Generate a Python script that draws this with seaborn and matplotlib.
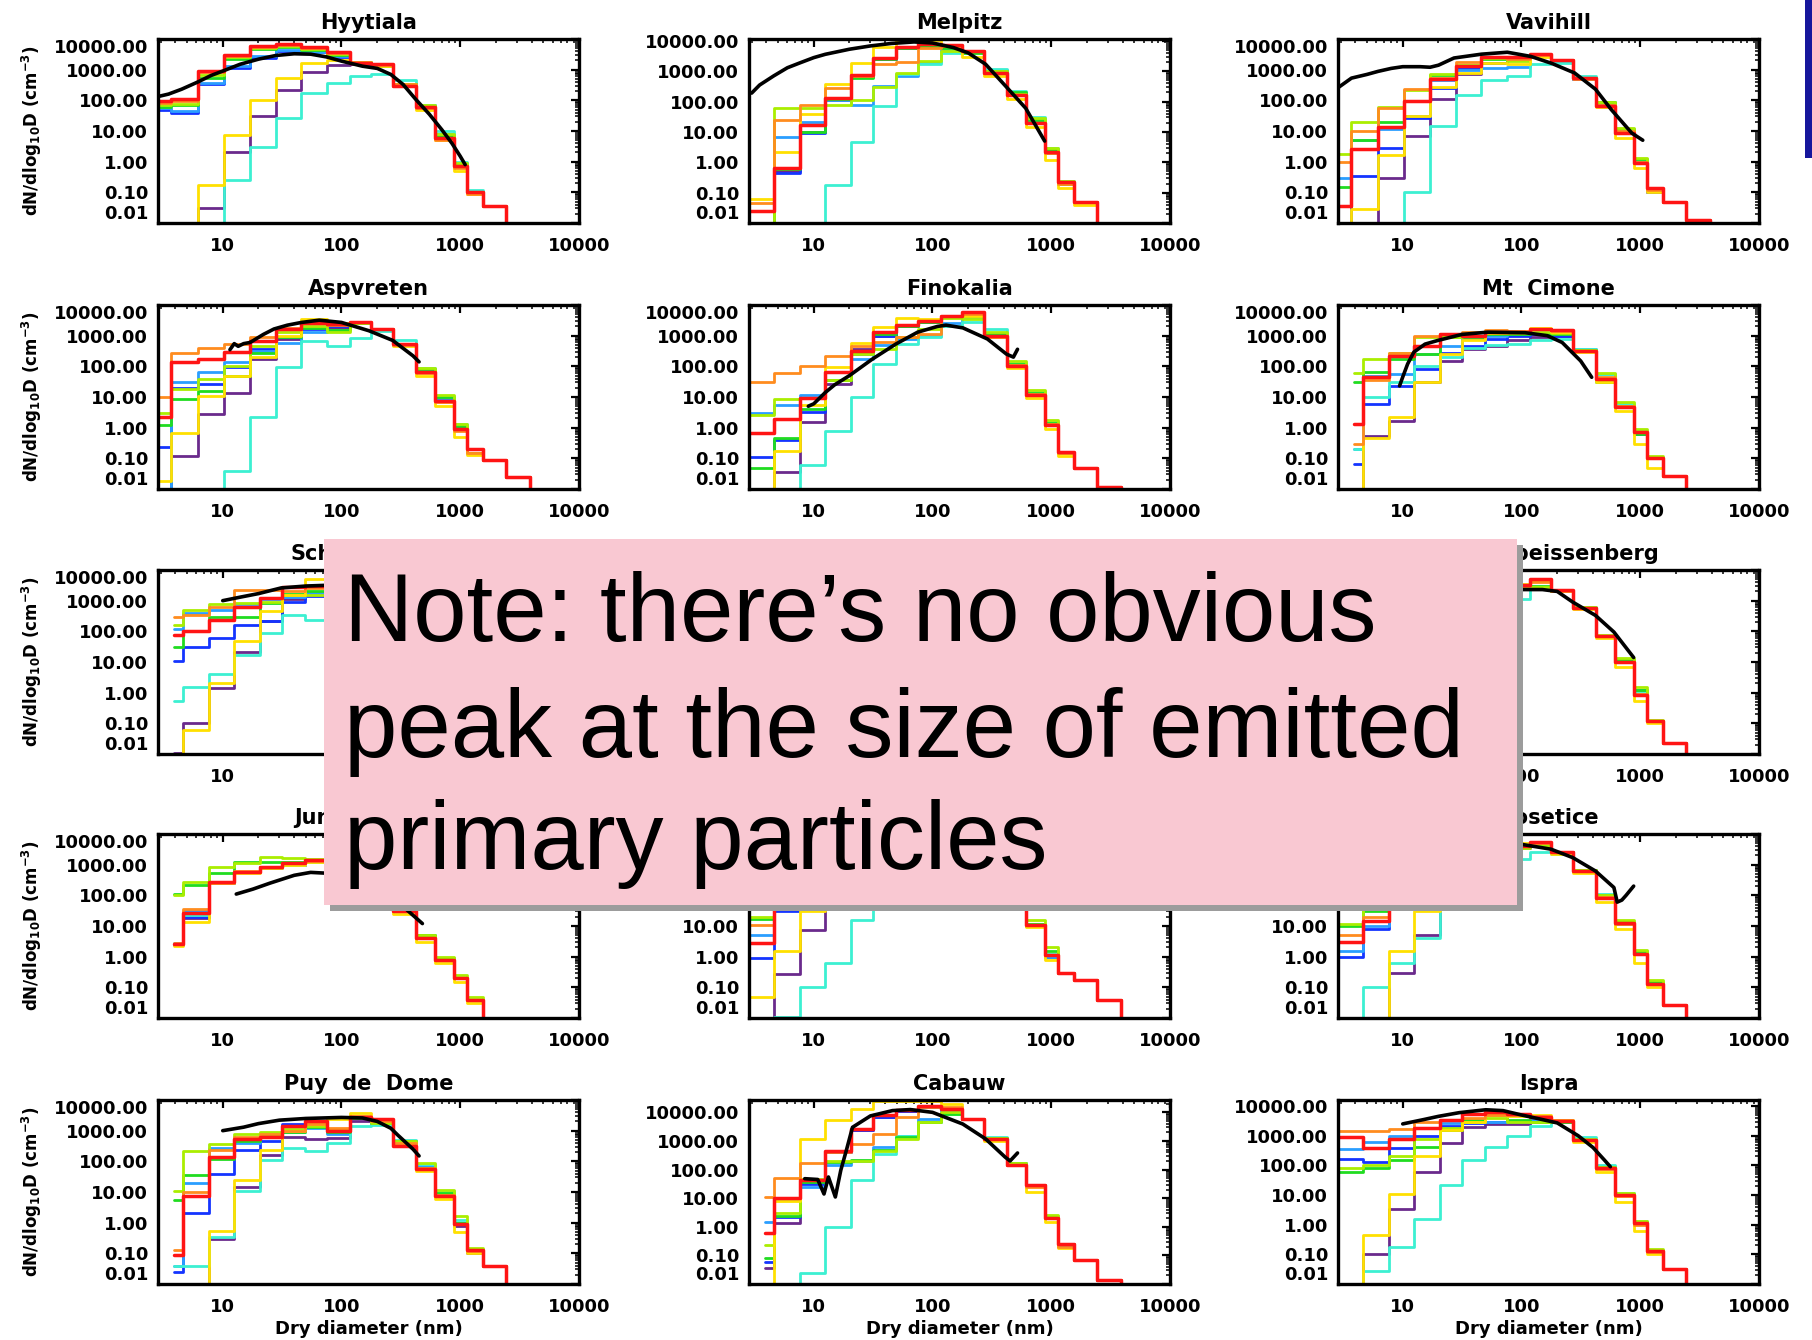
import matplotlib
matplotlib.use("Agg")
import matplotlib.pyplot as plt
from matplotlib.patches import Rectangle
from matplotlib.ticker import LogLocator, NullFormatter
import numpy as np
import pandas as pd
import seaborn as sns

sns.set_theme(style="white", rc={"text.color": "black", "axes.labelcolor": "black",
                                 "xtick.color": "black", "ytick.color": "black"})
plt.rcParams["font.family"] = ["DejaVu Sans"]
plt.rcParams["font.weight"] = "bold"
plt.rcParams["mathtext.default"] = "bf"

Z = 1e-4   # below the plotted range: the step falls to the axis
N = None   # size bin not shown

# size-bin edges (nm) of the measured distributions
EDGES_A = [2.3, 3.7, 6.2, 10.2, 17.0, 28.0, 46.0, 75.0, 118.0, 177.0, 270.0, 420.0,
           610.0, 880.0, 1130.0, 1560.0, 2450.0, 3900.0]
EDGES_B = [2.5, 4.6, 7.7, 12.5, 20.4, 31.6, 49.0, 75.0, 118.0, 177.0, 270.0, 420.0,
           610.0, 880.0, 1130.0, 1560.0, 2450.0, 3900.0]
EDGES_C = [3.9, 4.6, 7.7, 12.5, 20.4, 31.6, 49.0, 75.0, 118.0, 177.0, 270.0, 420.0,
           610.0, 880.0, 1130.0, 1560.0, 2450.0, 3900.0]

SERIES = ["purple", "blue", "lightblue", "cyan", "green", "yellowgreen", "yellow", "orange", "red"]
COLORS = {"purple": "#6A2A8C", "blue": "#1434FF", "lightblue": "#2A9EFF", "cyan": "#3CF0D2",
          "green": "#20DC20", "yellowgreen": "#AAEE00", "yellow": "#FFE000",
          "orange": "#FF8C1E", "red": "#FF1414"}

# ---- dN/dlog10D per size bin (cm-3) ----
HYYTIALA = dict(
    purple=[N, Z, 0.03, 2, 30, 220, 850, 1450, 1500, 1300, 300, 55, 6, 0.7, 0.1, 0.035, Z],
    blue=[50, 40, 330, 1100, 2400, 4000, 3700, 2600, 1600, 1300, 330, 65, 7, 0.8, 0.1, 0.035, Z],
    lightblue=[55, 45, 380, 1300, 2700, 4300, 3800, 2800, 1700, 1300, 350, 70, 8, 0.8, 0.1, 0.035, Z],
    cyan=[N, N, Z, 0.25, 3, 27, 170, 370, 600, 700, 450, 70, 10, 1.0, 0.12, 0.035, Z],
    green=[60, 70, 550, 2300, 4800, 5500, 4500, 3000, 1800, 1300, 340, 65, 7, 0.8, 0.1, 0.035, Z],
    yellowgreen=[70, 75, 650, 2600, 5000, 6000, 4800, 3300, 1800, 1400, 350, 70, 8, 0.9, 0.1, 0.035, Z],
    yellow=[N, Z, 0.17, 7.5, 100, 550, 1600, 2000, 1700, 1300, 300, 50, 5, 0.5, 0.09, 0.035, Z],
    orange=[80, 95, 850, 2800, 5500, 6500, 5000, 3500, 1800, 1400, 330, 55, 5, 0.6, 0.09, 0.035, Z],
    red=[95, 110, 900, 3000, 6000, 7000, 5500, 3800, 1700, 1500, 300, 60, 6, 0.7, 0.1, 0.035, Z],
)
HYYTIALA_MODEL_D = [2.9, 3.5, 4.5, 6.2, 8, 10, 14, 20, 28, 40, 55, 75, 100, 150, 200, 260, 330,
                    420, 550, 700, 850, 1000, 1100]
HYYTIALA_MODEL_N = [135, 160, 230, 400, 650, 900, 1500, 2200, 2900, 3300, 3200, 2600, 1900, 1300,
                    1100, 700, 330, 110, 35, 11, 4, 1.5, 0.8]

MELPITZ = dict(
    purple=[Z, 0.5, 10, 110, 650, 2500, 5800, 7000, 6500, 4300, 900, 180, 20, 2, 0.2, 0.05, Z],
    blue=[Z, 0.45, 9, 120, 700, 2600, 6000, 7000, 6500, 4200, 900, 180, 22, 2.2, 0.2, 0.05, Z],
    lightblue=[Z, 7, 22, 110, 80, 330, 700, 2000, 5000, 4500, 1100, 200, 25, 2.5, 0.2, 0.05, Z],
    cyan=[N, N, Z, 0.18, 4.6, 70, 800, 1700, 4000, 4500, 1200, 220, 30, 3, 0.25, 0.05, Z],
    green=[Z, 0.6, 10, 120, 600, 2500, 6000, 7000, 6000, 4000, 1000, 200, 25, 2.5, 0.2, 0.05, Z],
    yellowgreen=[Z, 60, 60, 75, 110, 300, 900, 2100, 4500, 4500, 1000, 180, 28, 3, 0.25, 0.05, Z],
    yellow=[0.06, 2.2, 40, 380, 1900, 6300, 11000, 11000, 7000, 3000, 700, 120, 15, 1.2, 0.14, 0.04, Z],
    orange=[0.045, 25, 80, 270, 700, 1700, 2000, 6000, 7000, 4500, 900, 170, 20, 2, 0.2, 0.05, Z],
    red=[0.025, 0.65, 17, 130, 750, 2800, 6300, 7700, 7300, 4600, 870, 170, 20, 2.1, 0.22, 0.05, Z],
)
MELPITZ_MODEL_D = [3.0, 3.5, 4.6, 6, 7.7, 10, 12.5, 20, 30, 45, 70, 100, 150, 200, 280, 420, 610, 880]
MELPITZ_MODEL_N = [190, 350, 700, 1300, 1900, 2800, 3600, 5300, 6800, 8200, 9200, 8500, 6000, 4000,
                   1700, 300, 60, 5]

VAVIHILL = dict(
    purple=[N, Z, 0.3, 7, 110, 700, 1600, 2000, 2800, 1900, 500, 70, 9, 0.9, 0.1, 0.05, 0.013],
    blue=[Z, 0.35, 2.8, 27, 250, 1100, 1600, 2400, 3000, 2000, 500, 75, 10, 1.0, 0.1, 0.05, 0.013],
    lightblue=[0.3, 5, 12, 30, 470, 1000, 1100, 1200, 3000, 1900, 500, 80, 10, 1.0, 0.12, 0.05, 0.013],
    cyan=[N, N, Z, 0.1, 15, 150, 470, 600, 1500, 1700, 600, 90, 12, 1.2, 0.12, 0.05, 0.013],
    green=[0.15, 5, 20, 95, 650, 1300, 2200, 2000, 3000, 2000, 550, 85, 12, 1.2, 0.12, 0.05, 0.013],
    yellowgreen=[1.8, 20, 60, 220, 700, 1400, 2400, 1900, 3100, 2100, 550, 90, 13, 1.3, 0.13, 0.05, 0.013],
    yellow=[Z, 0.028, 1.7, 30, 280, 800, 1700, 1500, 2500, 2000, 550, 60, 6, 0.6, 0.1, 0.05, 0.013],
    orange=[1.0, 10, 55, 230, 550, 1800, 2600, 2200, 3000, 2000, 500, 70, 10, 1.0, 0.12, 0.05, 0.013],
    red=[0.035, 2.6, 14, 95, 500, 1350, 2600, 2600, 3300, 2100, 550, 65, 8.5, 0.9, 0.14, 0.05, 0.013],
)
VAVIHILL_MODEL_D = [2.9, 3.7, 5, 6.2, 8, 10, 14, 17, 20, 27, 46, 76, 120, 180, 280, 420, 570, 850, 1050]
VAVIHILL_MODEL_N = [270, 530, 700, 880, 1100, 1250, 1250, 1200, 1400, 2400, 3200, 3700, 2700, 1600,
                    780, 230, 50, 8.5, 5]

ASPVRETEN = dict(
    purple=[Z, 0.12, 2.8, 14, 170, 780, 1900, 1800, 2500, 1600, 500, 70, 9, 1.0, 0.15, 0.09, 0.025],
    blue=[0.23, 20, 27, 93, 370, 880, 1650, 2000, 2600, 1500, 500, 65, 8, 1.0, 0.15, 0.09, 0.025],
    lightblue=[Z, 32, 65, 135, 320, 570, 1300, 1500, 2500, 1500, 500, 70, 9, 1.2, 0.15, 0.09, 0.025],
    cyan=[N, N, Z, 0.04, 2.2, 93, 650, 470, 820, 1450, 700, 90, 11, 1.3, 0.15, 0.09, 0.025],
    green=[1.2, 8.5, 16, 48, 270, 900, 1800, 1500, 2500, 1600, 520, 80, 10, 1.1, 0.15, 0.09, 0.025],
    yellowgreen=[3, 18, 38, 105, 470, 1300, 2000, 1300, 2500, 1700, 550, 90, 12, 1.3, 0.15, 0.09, 0.025],
    yellow=[0.018, 0.65, 11, 50, 200, 1000, 3400, 2500, 2800, 1700, 450, 50, 5, 0.5, 0.13, 0.09, 0.025],
    orange=[10, 270, 400, 550, 880, 1800, 2500, 2300, 2700, 1600, 500, 60, 7, 0.8, 0.15, 0.09, 0.025],
    red=[2.2, 135, 180, 300, 650, 1650, 2600, 2400, 2800, 1650, 530, 63, 7.5, 0.9, 0.2, 0.09, 0.025],
)
ASPVRETEN_MODEL_D = [11.5, 12.5, 13.5, 15, 17, 22, 27, 35, 46, 65, 100, 170, 270, 400, 450]
ASPVRETEN_MODEL_N = [350, 550, 450, 550, 600, 1100, 1650, 2200, 2700, 3200, 2700, 1450, 700, 220, 140]

FINOKALIA = dict(
    purple=[Z, 0.035, 1.5, 26, 370, 1000, 2000, 2800, 4000, 5000, 1000, 110, 12, 1.2, 0.15, 0.05, 0.012],
    blue=[0.11, 0.4, 3.2, 35, 250, 1000, 2000, 2800, 4000, 5000, 1000, 110, 12, 1.2, 0.15, 0.05, 0.012],
    lightblue=[3, 5.5, 12, 65, 170, 500, 780, 1000, 2500, 4000, 1200, 130, 15, 1.5, 0.15, 0.05, 0.012],
    cyan=[N, Z, 0.06, 0.8, 10, 120, 530, 880, 2000, 2700, 1650, 130, 15, 1.5, 0.15, 0.05, 0.012],
    green=[0.05, 0.45, 4, 35, 270, 1100, 2000, 2800, 4000, 4500, 1100, 120, 14, 1.4, 0.15, 0.05, 0.012],
    yellowgreen=[2.5, 8.5, 9.5, 35, 250, 370, 900, 1650, 3900, 3500, 1300, 150, 17, 1.8, 0.15, 0.05, 0.012],
    yellow=[Z, 0.18, 5.5, 93, 570, 1900, 3900, 3500, 4500, 4500, 900, 90, 9, 0.9, 0.12, 0.05, 0.012],
    orange=[32, 60, 100, 220, 470, 600, 900, 1100, 4500, 5000, 900, 110, 13, 1.3, 0.15, 0.05, 0.012],
    red=[0.65, 1.9, 9.6, 64, 320, 1350, 2200, 3100, 4500, 5800, 950, 100, 12, 1.2, 0.16, 0.05, 0.012],
)
FINOKALIA_MODEL_D = [9, 10, 12.5, 15, 20, 31, 49, 75, 110, 130, 180, 290, 420, 480, 520]
FINOKALIA_MODEL_N = [5, 6, 14, 25, 50, 170, 530, 1300, 2000, 2200, 1800, 780, 250, 200, 360]

MT_CIMONE = dict(
    purple=[Z, 0.55, 1.7, 32, 150, 370, 470, 700, 900, 1000, 330, 40, 5, 0.6, 0.1, 0.027, Z],
    blue=[0.065, 5.8, 23, 82, 280, 470, 800, 1000, 1100, 1000, 330, 40, 5, 0.6, 0.1, 0.027, Z],
    lightblue=[0.2, 50, 55, 250, 470, 800, 1000, 1100, 1200, 1100, 380, 55, 6, 0.8, 0.1, 0.027, Z],
    cyan=[0.2, 10, 30, 100, 200, 400, 500, 550, 700, 800, 380, 55, 6, 0.8, 0.1, 0.027, Z],
    green=[30, 65, 180, 250, 880, 900, 1100, 1100, 1200, 1100, 330, 30, 5, 0.6, 0.1, 0.027, Z],
    yellowgreen=[62, 170, 280, 880, 900, 1000, 1200, 1200, 1300, 1200, 350, 60, 7, 0.9, 0.12, 0.027, Z],
    yellow=[Z, 0.45, 2.3, 30, 250, 700, 1200, 1300, 1800, 1300, 300, 30, 3.5, 0.3, 0.05, 0.027, Z],
    orange=[0.3, 35, 280, 950, 1100, 1300, 1500, 1400, 1600, 1400, 320, 45, 5, 0.7, 0.1, 0.027, Z],
    red=[1.3, 45, 220, 470, 1100, 1000, 1300, 1300, 1600, 1500, 320, 38, 4.6, 0.7, 0.1, 0.027, Z],
)
MT_CIMONE_MODEL_D = [9.4, 10, 11, 12.4, 15.4, 19.8, 31.6, 52, 107, 165, 220, 315, 390]
MT_CIMONE_MODEL_N = [23, 45, 120, 290, 530, 700, 1100, 1300, 1250, 1000, 600, 150, 44]

SCHAUINSLAND = dict(
    purple=[0.0105, 0.1, 1.4, 21, 210, 1100, 1500, 1800, 2400, 1700, 400, 50, 6, 0.6, 0.1, 0.03, Z],
    blue=[11, 32, 60, 165, 210, 900, 1400, 1800, 2400, 1700, 400, 50, 6, 0.6, 0.1, 0.03, Z],
    lightblue=[120, 400, 500, 800, 1100, 1300, 1800, 2000, 2400, 1700, 400, 50, 6, 0.6, 0.1, 0.03, Z],
    cyan=[0.55, 1.5, 4, 17, 90, 350, 240, 400, 800, 1000, 400, 60, 7, 0.7, 0.1, 0.03, Z],
    green=[32, 100, 300, 290, 830, 1600, 2000, 2200, 2400, 1700, 400, 50, 6, 0.6, 0.1, 0.03, Z],
    yellowgreen=[165, 480, 750, 830, 900, 1500, 1500, 2000, 2400, 1800, 420, 55, 7, 0.7, 0.1, 0.03, Z],
    yellow=[Z, 0.06, 2, 47, 450, 1500, 5000, 5000, 3500, 1800, 400, 45, 5, 0.5, 0.08, 0.03, Z],
    orange=[300, 350, 600, 2200, 2300, 2000, 2500, 2500, 2500, 1800, 400, 50, 6, 0.6, 0.1, 0.03, Z],
    red=[78, 100, 240, 620, 1250, 2700, 3000, 3200, 2800, 1800, 400, 50, 6, 0.6, 0.1, 0.03, Z],
)
SCHAUINSLAND_MODEL_D = [10, 14, 20, 31, 50, 80]
SCHAUINSLAND_MODEL_N = [1000, 1300, 1700, 2600, 3000, 3200]

HOHENPEISSENBERG = dict(
    purple=[N, N, N, N, N, N, 2400, 2600, 2800, 2000, 580, 72, 12, 1.2, 0.12, 0.023, Z],
    blue=[N, N, N, N, N, N, 2400, 2600, 2800, 2000, 580, 72, 12, 1.2, 0.12, 0.023, Z],
    lightblue=[N, N, N, N, N, N, 2300, 2500, 2800, 2000, 580, 72, 12, 1.2, 0.12, 0.023, Z],
    cyan=[N, N, N, N, N, N, 900, 1100, 2500, 2000, 600, 70, 11, 1.0, 0.12, 0.023, Z],
    green=[N, N, N, N, N, N, 2500, 2700, 3000, 2000, 580, 72, 12, 1.2, 0.12, 0.023, Z],
    yellowgreen=[N, N, N, N, N, N, 2500, 2800, 2800, 2000, 600, 75, 14, 1.5, 0.13, 0.023, Z],
    yellow=[N, N, N, N, N, N, 3000, 3500, 4500, 2000, 550, 60, 7, 0.55, 0.1, 0.023, Z],
    orange=[N, N, N, N, N, N, 2600, 3000, 4000, 2100, 560, 68, 10, 0.9, 0.12, 0.023, Z],
    red=[N, N, N, N, N, N, 2800, 3200, 5000, 2300, 560, 68, 10, 0.85, 0.12, 0.023, Z],
)
HOHENPEISSENBERG_MODEL_D = [90, 100, 150, 200, 270, 420, 600, 880]
HOHENPEISSENBERG_MODEL_N = [2400, 2300, 2300, 2000, 900, 330, 95, 14]

JUNGFRAUJOCH = dict(
    purple=[2.5, 18, 260, 570, 820, 1000, 1200, 1300, 1200, 600, 30, 4, 0.8, 0.2, 0.04, Z, Z],
    blue=[2.4, 20, 260, 580, 800, 1000, 1300, 1300, 1200, 600, 30, 4, 0.8, 0.2, 0.04, Z, Z],
    lightblue=[2.7, 30, 270, 580, 850, 1100, 1300, 1300, 1200, 600, 30, 4, 0.8, 0.2, 0.04, Z, Z],
    cyan=[2.6, 22, 260, 580, 830, 1000, 1200, 1300, 1200, 600, 35, 5, 0.9, 0.2, 0.04, Z, Z],
    green=[110, 220, 520, 1250, 1200, 1200, 1300, 1300, 1200, 600, 35, 5, 0.9, 0.2, 0.04, Z, Z],
    yellowgreen=[100, 280, 860, 1100, 1800, 1600, 1500, 1400, 1200, 600, 35, 5, 1.0, 0.25, 0.05, Z, Z],
    yellow=[2.2, 14, 250, 550, 800, 1000, 1200, 1300, 1200, 600, 25, 3, 0.6, 0.15, 0.03, Z, Z],
    orange=[2.8, 35, 260, 600, 850, 1100, 1300, 1300, 1200, 600, 30, 4, 0.8, 0.2, 0.04, Z, Z],
    red=[2.5, 26, 280, 590, 860, 1100, 1400, 1400, 1200, 600, 30, 4, 0.8, 0.2, 0.04, Z, Z],
)
JUNGFRAUJOCH_MODEL_D = [13, 18, 25, 40, 55, 80, 150, 300, 480]
JUNGFRAUJOCH_MODEL_N = [110, 160, 250, 450, 560, 520, 300, 60, 12]

ROW4_MIDDLE = dict(
    purple=[Z, 0.28, 7.3, 100, 800, 2000, 3000, 3000, 3000, 2000, 600, 100, 10, 1.0, 0.3, 0.18, 0.04],
    blue=[0.9, 31, 200, 1000, 2000, 3000, 3000, 3000, 3000, 2000, 600, 100, 10, 1.0, 0.3, 0.18, 0.04],
    lightblue=[5, 40, 250, 1000, 2000, 3000, 3000, 3000, 3000, 2000, 600, 100, 10, 1.0, 0.3, 0.18, 0.04],
    cyan=[Z, 0.011, 0.1, 0.6, 16, 200, 1000, 2000, 3000, 2000, 600, 100, 10, 1.2, 0.3, 0.18, 0.04],
    green=[17, 70, 300, 1000, 2000, 3000, 3000, 3000, 3000, 2000, 600, 100, 12, 1.5, 0.3, 0.18, 0.04],
    yellowgreen=[20, 80, 300, 1000, 2000, 3000, 3000, 3000, 3000, 2000, 600, 100, 16, 2.0, 0.3, 0.18, 0.04],
    yellow=[0.05, 1.5, 30, 500, 2000, 3000, 3000, 3000, 3000, 2000, 600, 100, 9, 0.75, 0.3, 0.18, 0.04],
    orange=[11, 60, 300, 1000, 2000, 3000, 3000, 3000, 3000, 2000, 600, 100, 11, 1.1, 0.3, 0.18, 0.04],
    red=[2.7, 60, 300, 1000, 2000, 3000, 3000, 3000, 3000, 2000, 600, 100, 11, 1.1, 0.3, 0.18, 0.04],
)

KOSETICE = dict(
    purple=[N, Z, 0.3, 5, 80, 600, 2000, 3500, 4500, 2500, 600, 80, 12, 1.2, 0.13, 0.026, Z],
    blue=[1, 8, 60, 400, 1500, 3000, 4000, 4000, 4500, 2500, 600, 80, 12, 1.2, 0.13, 0.026, Z],
    lightblue=[1.5, 10, 80, 450, 1600, 3000, 4000, 4000, 4500, 2500, 600, 80, 12, 1.2, 0.13, 0.026, Z],
    cyan=[Z, 0.1, 0.6, 4, 40, 300, 900, 1500, 2500, 2300, 650, 110, 14, 1.3, 0.13, 0.026, Z],
    green=[10, 30, 150, 600, 1800, 3200, 4000, 4000, 4500, 2500, 650, 100, 14, 1.5, 0.15, 0.026, Z],
    yellowgreen=[12, 40, 200, 700, 2000, 3300, 4000, 3500, 4000, 2400, 650, 100, 16, 1.6, 0.17, 0.026, Z],
    yellow=[N, Z, 1.5, 30, 500, 2500, 5000, 5000, 5000, 2300, 550, 60, 8, 0.6, 0.1, 0.026, Z],
    orange=[5, 20, 120, 600, 2000, 3500, 4500, 4500, 5000, 2500, 620, 85, 12, 1.2, 0.13, 0.026, Z],
    red=[3, 15, 100, 600, 2000, 3800, 4500, 4100, 5300, 2500, 630, 83, 12.5, 1.2, 0.13, 0.026, Z],
)
KOSETICE_MODEL_D = [90, 100, 177, 270, 420, 600, 640, 700, 760, 880]
KOSETICE_MODEL_N = [4800, 4600, 3200, 1700, 620, 180, 60, 70, 100, 200]

PUY_DE_DOME = dict(
    purple=[N, Z, 0.3, 15, 160, 630, 530, 570, 2000, 1800, 420, 55, 8, 0.8, 0.1, 0.04, Z],
    blue=[0.025, 2.1, 40, 230, 470, 1700, 1800, 900, 2500, 1800, 420, 60, 8, 0.9, 0.12, 0.04, Z],
    lightblue=[0.04, 20, 270, 400, 600, 900, 1200, 800, 2500, 1800, 450, 70, 10, 1.0, 0.12, 0.04, Z],
    cyan=[0.04, 0.04, 0.33, 11, 110, 280, 220, 400, 1450, 1500, 500, 80, 11, 1.2, 0.13, 0.04, Z],
    green=[5.5, 35, 120, 470, 700, 900, 1300, 900, 2500, 1800, 450, 60, 9, 1.0, 0.12, 0.04, Z],
    yellowgreen=[10.5, 220, 370, 780, 880, 1100, 1450, 1100, 2700, 1800, 470, 85, 12, 1.6, 0.15, 0.04, Z],
    yellow=[N, Z, 0.55, 25, 230, 1000, 1650, 2400, 3800, 2000, 400, 50, 6, 0.5, 0.1, 0.04, Z],
    orange=[0.13, 10, 230, 600, 800, 1000, 1600, 1200, 3000, 2000, 400, 60, 8, 0.9, 0.12, 0.04, Z],
    red=[0.09, 7.5, 140, 530, 630, 1450, 2100, 1000, 2700, 2400, 320, 57, 7.5, 0.9, 0.13, 0.04, Z],
)
PUY_DE_DOME_MODEL_D = [10, 15, 20, 30, 50, 100, 150, 200, 260, 300, 400, 450]
PUY_DE_DOME_MODEL_N = [1000, 1300, 1700, 2200, 2500, 2700, 2600, 2000, 1200, 700, 250, 150]

CABAUW = dict(
    purple=[0.035, 1.4, 38, 400, 2400, 7000, 11000, 15000, 12000, 6000, 1200, 150, 26, 2, 0.22, 0.07, 0.014],
    blue=[0.06, 2.2, 32, 400, 2500, 7000, 11000, 15000, 12000, 6000, 1200, 150, 26, 2, 0.22, 0.07, 0.014],
    lightblue=[1.5, 9.5, 25, 150, 200, 600, 1500, 6000, 12000, 6000, 1300, 160, 28, 2.2, 0.25, 0.07, 0.014],
    cyan=[N, Z, 0.024, 1.0, 42, 360, 1500, 4500, 9000, 6000, 1400, 170, 28, 2.3, 0.25, 0.07, 0.014],
    green=[0.08, 2.3, 38, 180, 210, 500, 1400, 4500, 9000, 6000, 1300, 170, 28, 2.2, 0.25, 0.07, 0.014],
    yellowgreen=[0.23, 3, 48, 200, 200, 450, 1200, 4500, 10000, 6000, 1300, 170, 30, 2.5, 0.25, 0.07, 0.014],
    yellow=[Z, 8, 1200, 5400, 13000, 25000, 25000, 25000, 20000, 6000, 1000, 140, 16, 1.5, 0.18, 0.07, 0.014],
    orange=[11, 50, 170, 420, 800, 1800, 7000, 16000, 15000, 6000, 1200, 150, 25, 2, 0.2, 0.07, 0.014],
    red=[0.6, 10, 42, 460, 2600, 8000, 12000, 17000, 13000, 6000, 1200, 150, 28, 2, 0.25, 0.07, 0.014],
)
CABAUW_MODEL_D = [8.4, 10.8, 12.2, 13.3, 15.2, 16.9, 18.9, 21.2, 30, 46, 65, 100, 180, 280, 410, 450, 520]
CABAUW_MODEL_N = [48, 45, 14, 55, 11, 95, 500, 3000, 7500, 11500, 12500, 10000, 3900, 1180, 270, 200, 380]

ISPRA = dict(
    purple=[Z, 0.1, 3.5, 60, 550, 2000, 2500, 2500, 2800, 3000, 700, 80, 10, 1.1, 0.12, 0.033, Z],
    blue=[160, 130, 380, 1000, 2200, 2700, 3000, 3000, 3500, 3000, 700, 80, 10, 1.1, 0.12, 0.033, Z],
    lightblue=[370, 600, 1000, 1800, 2600, 2800, 3000, 3200, 3500, 3000, 700, 80, 10, 1.1, 0.12, 0.033, Z],
    cyan=[Z, 0.028, 0.18, 1.6, 22, 150, 420, 1000, 2200, 3000, 900, 100, 12, 1.3, 0.14, 0.033, Z],
    green=[60, 80, 150, 420, 1500, 3500, 5000, 3500, 3000, 3000, 720, 85, 11, 1.2, 0.13, 0.033, Z],
    yellowgreen=[80, 100, 200, 800, 1800, 3000, 4000, 3000, 3000, 3200, 750, 90, 12, 1.3, 0.15, 0.033, Z],
    yellow=[Z, 0.45, 11, 200, 1500, 3000, 5000, 4500, 5000, 3500, 600, 60, 6, 0.6, 0.1, 0.033, Z],
    orange=[1400, 1400, 1700, 2800, 3500, 4000, 5000, 5000, 4500, 3300, 700, 75, 9, 1.0, 0.12, 0.033, Z],
    red=[930, 400, 800, 1770, 3400, 5200, 6400, 5600, 4400, 3200, 720, 80, 10, 1.1, 0.13, 0.033, Z],
)
ISPRA_MODEL_D = [10, 15, 20, 30, 50, 70, 100, 150, 200, 300, 400, 500, 560]
ISPRA_MODEL_N = [2500, 3500, 4500, 6000, 7500, 7000, 5000, 3500, 2700, 1000, 400, 150, 90]

# grid order: (title, bin edges, series, model diameters, model number, upper y limit)
PANELS = [
    ("Hyytiala", EDGES_A, HYYTIALA, HYYTIALA_MODEL_D, HYYTIALA_MODEL_N, 1e4),
    ("Melpitz", EDGES_B, MELPITZ, MELPITZ_MODEL_D, MELPITZ_MODEL_N, 1.15e4),
    ("Vavihill", EDGES_A, VAVIHILL, VAVIHILL_MODEL_D, VAVIHILL_MODEL_N, 1e4),
    ("Aspvreten", EDGES_A, ASPVRETEN, ASPVRETEN_MODEL_D, ASPVRETEN_MODEL_N, 1e4),
    ("Finokalia", EDGES_B, FINOKALIA, FINOKALIA_MODEL_D, FINOKALIA_MODEL_N, 1e4),
    ("Mt  Cimone", EDGES_C, MT_CIMONE, MT_CIMONE_MODEL_D, MT_CIMONE_MODEL_N, 1e4),
    ("Schauinsland", EDGES_C, SCHAUINSLAND, SCHAUINSLAND_MODEL_D, SCHAUINSLAND_MODEL_N, 1e4),
    (None, None, None, None, None, 1e4),
    ("Hohenpeissenberg", EDGES_B, HOHENPEISSENBERG, HOHENPEISSENBERG_MODEL_D, HOHENPEISSENBERG_MODEL_N, 1e4),
    ("Jungfraujoch", EDGES_C, JUNGFRAUJOCH, JUNGFRAUJOCH_MODEL_D, JUNGFRAUJOCH_MODEL_N, 1e4),
    (None, EDGES_B, ROW4_MIDDLE, None, None, 1e4),
    ("Kosetice", EDGES_B, KOSETICE, KOSETICE_MODEL_D, KOSETICE_MODEL_N, 1e4),
    ("Puy  de  Dome", EDGES_C, PUY_DE_DOME, PUY_DE_DOME_MODEL_D, PUY_DE_DOME_MODEL_N, 1e4),
    ("Cabauw", EDGES_C, CABAUW, CABAUW_MODEL_D, CABAUW_MODEL_N, 2.7e4),
    ("Ispra", EDGES_B, ISPRA, ISPRA_MODEL_D, ISPRA_MODEL_N, 1.6e4),
]

Y_TICKS = [0.01, 0.1, 1, 10, 100, 1000, 10000]
X_TICKS = [10, 100, 1000, 10000]
# tick labels lying wholly under the note box are left blank
COVERED_Y = {7: Y_TICKS, 8: Y_TICKS, 10: [100, 1000, 10000], 11: [100, 1000, 10000]}
COVERED_X = {6: [100, 1000, 10000], 7: X_TICKS, 8: [10]}

FIG_W, FIG_H = 1812, 1340
COL_X = [158, 749, 1338]
ROW_Y = [39, 305, 570, 834, 1100]
AX_W, AX_H = 421, 184


def step_segments(edges, values):
    """Split a binned series into contiguous runs, each ending with a drop to the axis."""
    runs, cur = [], []
    for i, v in enumerate(values[:len(edges) - 1]):
        if v is None:
            if cur:
                runs.append(cur)
            cur = []
        else:
            cur.append(i)
    if cur:
        runs.append(cur)
    frames = []
    for run in runs:
        xs = [edges[i] for i in run] + [edges[run[-1] + 1]]
        ys = [values[i] for i in run] + [Z]
        frames.append(pd.DataFrame({"D": xs, "dN": ys}))
    return frames


fig = plt.figure(figsize=(FIG_W / 100, FIG_H / 100), dpi=100)

for k, (title, edges, series, md, mn, ytop) in enumerate(PANELS):
    r, c = divmod(k, 3)
    ax = fig.add_axes([COL_X[c] / FIG_W, 1 - (ROW_Y[r] + AX_H) / FIG_H, AX_W / FIG_W, AX_H / FIG_H])
    ax.set_xscale("log")
    ax.set_yscale("log")

    if series is not None:
        for name in SERIES:
            lw = 2.5 if name == "red" else 2.0
            for seg in step_segments(edges, series[name]):
                sns.lineplot(data=seg, x="D", y="dN", ax=ax, color=COLORS[name], lw=lw,
                             drawstyle="steps-post", estimator=None, sort=False, legend=False)
    if md is not None:
        sns.lineplot(x=md, y=mn, ax=ax, color="black", lw=2.6, estimator=None, sort=False, legend=False)

    hid_y = COVERED_Y.get(k, [])
    hid_x = COVERED_X.get(k, [])
    ax.set_xticks(X_TICKS, ["" if t in hid_x else str(t) for t in X_TICKS])
    ax.set_yticks(Y_TICKS, ["" if t in hid_y else f"{t:.2f}" for t in Y_TICKS])
    ax.xaxis.set_minor_locator(LogLocator(base=10, subs=np.arange(2, 10) * 1.0, numticks=30))
    ax.yaxis.set_minor_locator(LogLocator(base=10, subs=np.arange(2, 10) * 1.0, numticks=30))
    ax.xaxis.set_minor_formatter(NullFormatter())
    ax.yaxis.set_minor_formatter(NullFormatter())
    ax.set_xlim(2.85, 10000)
    ax.set_ylim(0.01, ytop)
    ax.tick_params(which="major", direction="in", length=6, width=1.6, top=True, right=True,
                   labelsize=13)
    ax.tick_params(axis="y", which="major", pad=7)
    ax.tick_params(axis="x", which="major", pad=10)
    ax.tick_params(which="minor", direction="in", length=3, width=1.1, top=True, right=True)
    for s in ax.spines.values():
        s.set_linewidth(2.4)
        s.set_color("black")
    yt = ax.yaxis.get_major_ticks()
    yt[0].label1.set_verticalalignment("bottom")
    if ytop <= 1e4:
        yt[-1].label1.set_verticalalignment("top")

    ax.set_xlabel("")
    ax.set_ylabel("")
    if title:
        ax.set_title(title, fontsize=15, fontweight="bold", pad=7)
    if c == 0:
        ax.set_ylabel(r"dN/dlog$_{10}$D (cm$^{-3}$)", fontsize=12, fontweight="bold")
        ax.yaxis.set_label_coords(-0.30, 0.5)
        ax.yaxis.label.set_verticalalignment("center")
    if r == 4:
        ax.set_xlabel("Dry diameter (nm)", fontsize=13, fontweight="bold")
        ax.xaxis.set_label_coords(0.5, -0.245)
        ax.xaxis.label.set_verticalalignment("center")

# annotation box laid over the middle of the grid
bx0, by0, bx1, by1 = 323.6, 538.5, 1517.0, 905.0
fig.patches.append(Rectangle(((bx0 + 6) / FIG_W, 1 - (by1 + 6) / FIG_H), (bx1 - bx0) / FIG_W,
                             (by1 - by0) / FIG_H, transform=fig.transFigure, facecolor="#9C9C9C",
                             edgecolor="none", zorder=20))
fig.patches.append(Rectangle((bx0 / FIG_W, 1 - by1 / FIG_H), (bx1 - bx0) / FIG_W, (by1 - by0) / FIG_H,
                             transform=fig.transFigure, facecolor="#F9C8D2", edgecolor="none", zorder=21))
NOTE_LINES = ["Note: there\u2019s no obvious", "peak at the size of emitted", "primary particles"]
for line, base in zip(NOTE_LINES, [641, 757, 869]):
    fig.text(344 / FIG_W, 1 - base / FIG_H, line, fontsize=69, fontweight="normal",
             family=["Liberation Sans", "DejaVu Sans"], color="black", va="baseline", ha="left",
             zorder=22)

# slide accent bar at the top right corner
fig.patches.append(Rectangle((1805 / FIG_W, 1 - 158 / FIG_H), 7 / FIG_W, 158 / FIG_H,
                             transform=fig.transFigure, facecolor="#16169C", edgecolor="none", zorder=20))

fig.savefig("out.png", dpi=100)
